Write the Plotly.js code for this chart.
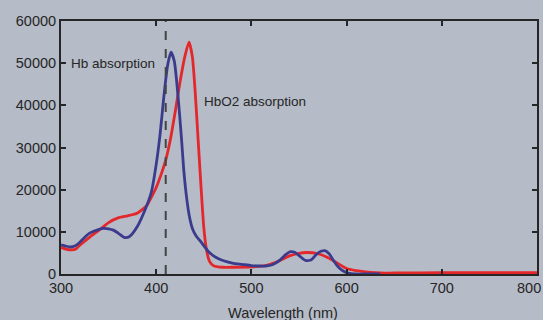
<!DOCTYPE html>
<html>
<head>
<meta charset="utf-8">
<script src="https://cdn.plot.ly/plotly-3.0.1.min.js"></script>
<style>html,body{margin:0;padding:0;background:#b5bbc7;overflow:hidden;width:543px;height:320px;}#chart{width:570px;height:320px;}</style>
</head>
<body>
<div id="chart"></div>
<script>
// Hb (deoxyhemoglobin) absorption
const hbWavelength = [300,305,310,315,320,325,330,340,345,350,355,360,367,372,380,390,395,400,404,408,412,415.5,419,423,426.7,429,432,435,438,442,447,455,463,470,480,490,500,508,515,522,530,536,541,546,551,557,563,568,573,578,582,586,590,595,600,605,610,620,635];
const hbValues     = [6900,6600,6400,6700,7600,8700,9700,10600,10800,10700,10400,9700,8650,8900,11200,16200,19500,26000,33000,42000,49500,52600,50500,42000,31700,24500,18000,13500,10800,9000,7600,5300,3900,3200,2600,2300,2000,1900,1900,2200,3300,4600,5300,5100,4200,3200,3400,4600,5400,5500,4700,3300,2000,900,300,100,0,0,0];

// HbO2 (oxyhemoglobin) absorption
const hbo2Wavelength = [300,305,311,316,320,330,340,350,360,370,380,390,394,400,405,410,415,420,425,430,434.5,438,441,444,447,450,453,456,460,465,470,480,500,515,525,540,550,558,570,580,590,600,610,620,630,640,650,700,800];
const hbo2Values     = [6300,5900,5700,6000,6900,8700,10400,12200,13300,13800,14400,16200,17800,20500,23500,27000,32000,38500,45500,51500,55000,51500,43000,32000,21000,11000,5500,3000,2000,1700,1600,1600,1700,2000,2700,4300,4900,5100,4800,3900,2600,1300,800,500,300,200,250,300,300];

const markerWavelength = [410];
const xTicks = [300,400,500,600,700,800];
const yTicks = [0,10000,20000,30000,40000,50000,60000];
const labels = ["Hb absorption", "HbO2 absorption"];
const labelPos = [[308.5, 50000], [448, 40800]];
const xTitle = "Wavelength (nm)";

const font = "Liberation Sans, Arial, Helvetica, sans-serif";
const lastTick = xTicks[xTicks.length - 1];

const traces = [
  {x: hbo2Wavelength, y: hbo2Values, type: 'scatter', mode: 'lines',
   line: {color: '#e4272b', width: 2.8, shape: 'spline', smoothing: 0.6}, name: 'HbO2'},
  {x: hbWavelength, y: hbValues, type: 'scatter', mode: 'lines',
   line: {color: '#3b3b8e', width: 2.8, shape: 'spline', smoothing: 0.6}, name: 'Hb'}
];

const layout = {
  width: 570, height: 320,
  margin: {l: 61, r: 33, t: 21, b: 46},
  paper_bgcolor: '#b5bbc7', plot_bgcolor: '#b5bbc7',
  showlegend: false,
  font: {family: font, color: '#262626', size: 14.5},
  xaxis: {range: [300, 800], tickvals: xTicks,
    ticktext: xTicks.map(v => v === lastTick ? '' : String(v)),
    showgrid: false, zeroline: false, showline: true, linecolor: '#262626', linewidth: 2,
    mirror: 'ticks', ticks: 'inside', ticklen: 5, tickwidth: 2, tickcolor: '#262626',
    tickfont: {size: 14.5, family: font, color: '#262626'}, fixedrange: true},
  yaxis: {range: [0, 60000], tickvals: yTicks, ticktext: yTicks.map(String),
    showgrid: false, zeroline: false, showline: true, linecolor: '#262626', linewidth: 2,
    mirror: 'ticks', ticks: 'inside', ticklen: 5, tickwidth: 2, tickcolor: '#262626',
    tickfont: {size: 14.5, family: font, color: '#262626'}, fixedrange: true},
  shapes: markerWavelength.map(w => ({type: 'line', xref: 'x', yref: 'paper', x0: w, x1: w, y0: 0, y1: 1,
    line: {color: '#444', width: 2, dash: 'dash'}})),
  annotations: labels.map((t, i) => ({text: t, x: labelPos[i][0], y: labelPos[i][1], xref: 'x', yref: 'y',
    xanchor: 'left', yanchor: 'middle', showarrow: false, font: {size: 13.5, family: font, color: '#262626'}}))
    .concat([
      {text: xTitle, xref: 'paper', yref: 'paper', x: (283 - 61) / 476, y: -0.155,
       xanchor: 'center', yanchor: 'middle', showarrow: false, font: {size: 14.5, family: font, color: '#262626'}},
      {text: String(lastTick), xref: 'paper', yref: 'paper', x: (543 - 61) / 476, y: -(288 - 274) / 253,
       xanchor: 'right', yanchor: 'middle', showarrow: false, font: {size: 14.5, family: font, color: '#262626'}}
    ])
};

Plotly.newPlot('chart', traces, layout, {displayModeBar: false, staticPlot: true});
</script>
</body>
</html>
